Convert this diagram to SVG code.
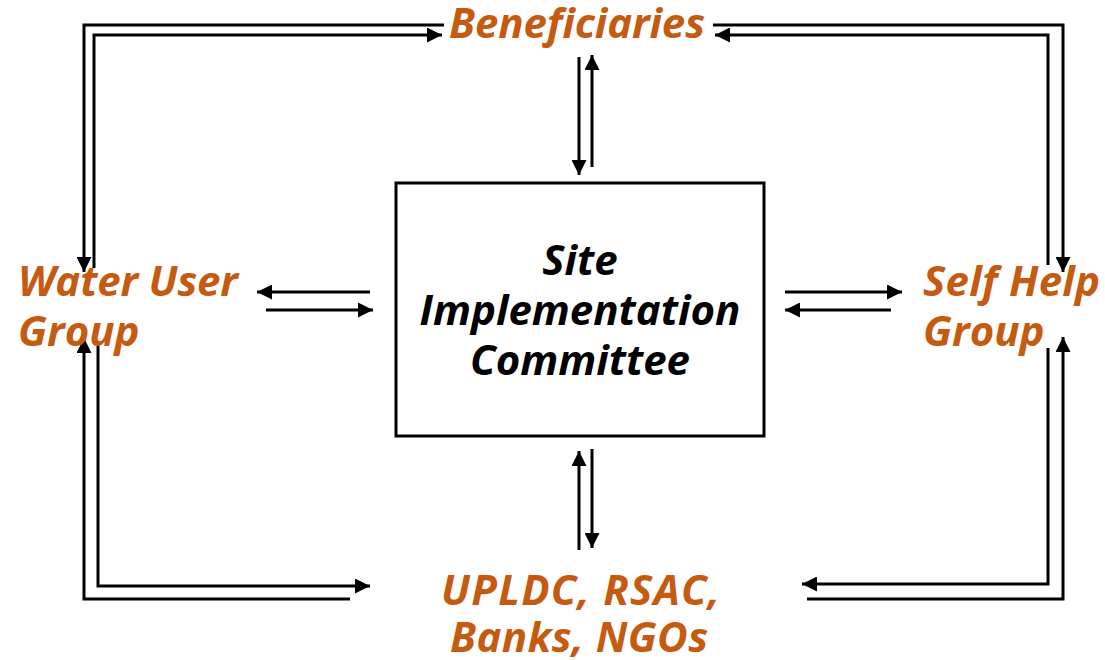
<svg xmlns="http://www.w3.org/2000/svg" width="1105" height="660" viewBox="0 0 1105 660">
<defs>
<marker id="ah" viewBox="0 0 10 10" refX="10" refY="5" markerWidth="5" markerHeight="5" markerUnits="strokeWidth" orient="auto">
<path d="M0,0 L10,5 L0,10 z" fill="#000"/>
</marker>
<style>
.lbl{font-family:"Open Sans","Noto Sans",sans-serif;font-weight:bold;font-style:italic;font-size:42px;fill:#C55A11}
.ctr{font-family:"Open Sans","Noto Sans",sans-serif;font-weight:bold;font-style:italic;font-size:42px;fill:#000;text-anchor:middle}
.c{fill:none;stroke:#000;stroke-width:3}
.ca{fill:none;stroke:#000;stroke-width:3;marker-end:url(#ah)}
</style>
</defs>
<rect width="1105" height="660" fill="#fff"/>
<g id="connectors">
<path class="c" d="M444,25 H84 V258"/>
<path class="ca" d="M84,258 V272"/>
<path class="ca" d="M94,268 V35 H442"/>
<path class="ca" d="M713,25 H1063 V272"/>
<path class="ca" d="M1048,265 V35 H715"/>
<path class="ca" d="M350,599 H84 V338"/>
<path class="ca" d="M98,346 V586 H370"/>
<path class="ca" d="M807,599 H1063 V337"/>
<path class="ca" d="M1048,348 V584 H802"/>
<path class="ca" d="M370,292 H257"/>
<path class="ca" d="M266,310 H373"/>
<path class="ca" d="M785,292 H902"/>
<path class="ca" d="M891,310 H785"/>
<path class="ca" d="M579,57 V175"/>
<path class="ca" d="M592,167 V55"/>
<path class="ca" d="M579,550 V451"/>
<path class="ca" d="M592,449 V548"/>
</g>
<g id="sic">
<rect x="396" y="183" width="368" height="253" fill="#fff" stroke="#000" stroke-width="3"/>
<text class="ctr" x="580" y="275">Site</text>
<text class="ctr" x="580" y="325">Implementation</text>
<text class="ctr" x="580" y="375">Committee</text>
</g>
<g id="beneficiaries">
<text class="lbl" x="449" y="38" textLength="256">Beneficiaries</text>
</g>
<g id="wug">
<text class="lbl" x="18" y="296" textLength="220">Water User</text>
<text class="lbl" x="18" y="346">Group</text>
</g>
<g id="shg">
<text class="lbl" x="923" y="296" textLength="177">Self Help</text>
<text class="lbl" x="923" y="346">Group</text>
</g>
<g id="others">
<text class="lbl" x="441" y="605" textLength="279">UPLDC, RSAC,</text>
<text class="lbl" x="450" y="652" textLength="258">Banks, NGOs</text>
</g>
</svg>
